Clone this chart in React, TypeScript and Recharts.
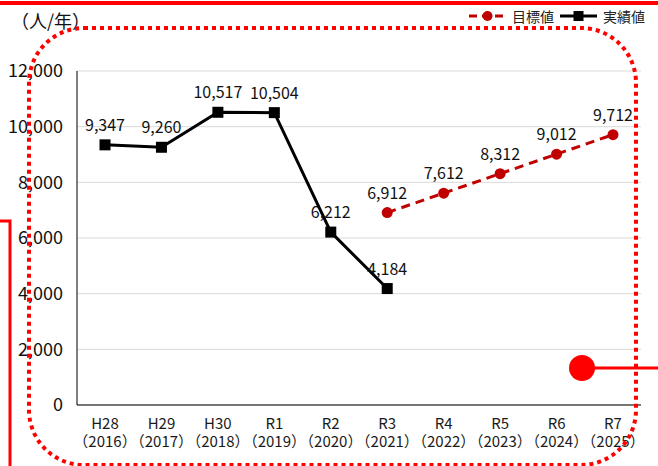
import React from 'react';
import { LineChart, Line, XAxis, YAxis, CartesianGrid, LabelList } from 'recharts';

const categories = ['H28', 'H29', 'H30', 'R1', 'R2', 'R3', 'R4', 'R5', 'R6', 'R7'];
const years = ['（2016）', '（2017）', '（2018）', '（2019）', '（2020）', '（2021）', '（2022）', '（2023）', '（2024）', '（2025）'];
const actualValues: (number | null)[] = [9347, 9260, 10517, 10504, 6212, 4184, null, null, null, null];
const targetValues: (number | null)[] = [null, null, null, null, null, 6912, 7612, 8312, 9012, 9712];
const yTicks = [0, 2000, 4000, 6000, 8000, 10000, 12000];

const data = categories.map((c, i) => ({
  cat: c,
  year: years[i],
  actual: actualValues[i],
  target: targetValues[i],
}));

const FONT = '"Noto Sans CJK JP", "Noto Sans", sans-serif';
const RED = '#C00000';

const XTick = (props: any) => {
  const { x, y, payload, index } = props;
  return (
    <g>
      <text x={x} y={y + 16} textAnchor="middle" fontSize={15} fill="#1a1a1a" fontFamily={FONT}>
        {payload.value}
      </text>
      <text x={x} y={y + 34} textAnchor="middle" fontSize={15} fill="#1a1a1a" fontFamily={FONT}>
        {years[index]}
      </text>
    </g>
  );
};

const SquareDot = (props: any) => {
  const { cx, cy, value } = props;
  if (value == null || cx == null || cy == null) return null;
  return <rect x={cx - 5.5} y={cy - 5.5} width={11} height={11} fill="#000" />;
};

const fmt = (v: any) => (v == null ? '' : Number(v).toLocaleString('en-US'));

export default function App() {
  return (
    <div style={{ position: 'absolute', left: 0, top: 0, width: 658, height: 466, background: '#fff', fontFamily: FONT }}>
      <LineChart
        width={658}
        height={466}
        data={data}
        margin={{ top: 71, right: 17, left: 0, bottom: 11 }}
      >
        <CartesianGrid vertical={false} stroke="#d9d9d9" strokeWidth={1} />
        <XAxis
          dataKey="cat"
          height={50}
          padding={{ left: 28, right: 28 }}
          tickLine={false}
          axisLine={{ stroke: '#000', strokeWidth: 1 }}
          tick={<XTick />}
          interval={0}
        />
        <YAxis
          width={77}
          domain={[0, 12000]}
          ticks={yTicks}
          tickFormatter={fmt}
          tickLine={false}
          tickSize={0}
          tickMargin={14}
          axisLine={{ stroke: '#000', strokeWidth: 1 }}
          tick={{ fontSize: 18, fill: '#111', fontFamily: FONT }}
        />
        <Line
          dataKey="actual"
          stroke="#000"
          strokeWidth={3}
          dot={<SquareDot />}
          isAnimationActive={false}
          connectNulls={false}
        >
          <LabelList dataKey="actual" position="top" offset={14} formatter={fmt} style={{ fontSize: 16, fill: '#111', fontFamily: FONT }} />
        </Line>
        <Line
          dataKey="target"
          stroke={RED}
          strokeWidth={3}
          strokeDasharray="9 6"
          dot={{ r: 5.5, fill: RED, stroke: RED, strokeWidth: 0 }}
          isAnimationActive={false}
          connectNulls={false}
        >
          <LabelList dataKey="target" position="top" offset={14} formatter={fmt} style={{ fontSize: 16, fill: '#111', fontFamily: FONT }} />
        </Line>
      </LineChart>

      <div style={{ position: 'absolute', left: 11, top: 7, fontSize: 18, color: '#111', fontFamily: FONT }}>（人/年）</div>

      <div style={{ position: 'absolute', right: 13, top: 6, display: 'flex', alignItems: 'center', fontSize: 14, color: '#222', fontFamily: FONT }}>
        <svg width={37} height={20}>
          <line x1={0} y1={10} x2={37} y2={10} stroke={RED} strokeWidth={3} strokeDasharray="8 5" />
          <circle cx={18.5} cy={10} r={5} fill={RED} />
        </svg>
        <span style={{ marginLeft: 6, marginRight: 6 }}>目標値</span>
        <svg width={37} height={20}>
          <line x1={0} y1={10} x2={37} y2={10} stroke="#000" strokeWidth={3} />
          <rect x={13.5} y={5} width={10} height={10} fill="#000" />
        </svg>
        <span style={{ marginLeft: 6 }}>実績値</span>
      </div>

      <svg width={658} height={466} style={{ position: 'absolute', left: 0, top: 0, pointerEvents: 'none' }}>
        <line x1={0} y1={3} x2={658} y2={3} stroke="#ff0000" strokeWidth={4} />
        <rect x={29} y={28} width={607} height={437} rx={55} ry={55} fill="none" stroke="#ff0000" strokeWidth={4} strokeDasharray="4 4" />
        <polyline points="0,221 10,221 10,466" fill="none" stroke="#ff0000" strokeWidth={3} />
        <circle cx={582} cy={368} r={13} fill="#ff0000" />
        <line x1={590} y1={368} x2={658} y2={368} stroke="#ff0000" strokeWidth={3} />
      </svg>
    </div>
  );
}
